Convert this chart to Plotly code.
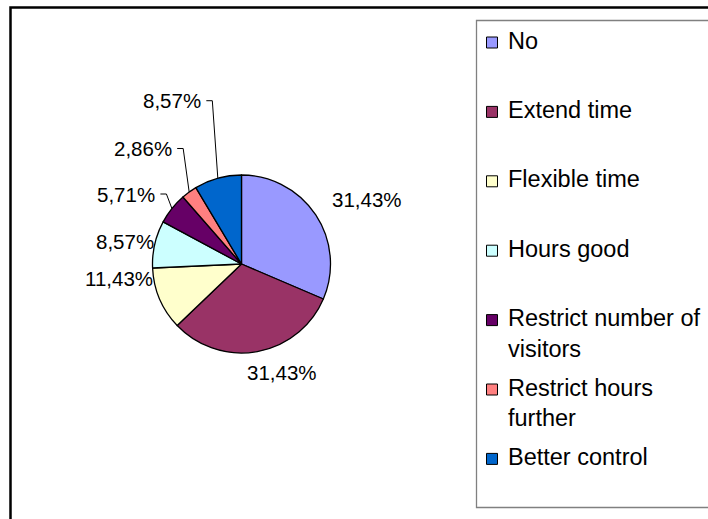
import math
import plotly.graph_objects as go

# ---- data -------------------------------------------------------------
categories = ["No", "Extend time", "Flexible time", "Hours good",
              "Restrict number of visitors", "Restrict hours further",
              "Better control"]
legend_lines = [["No"], ["Extend time"], ["Flexible time"], ["Hours good"],
                ["Restrict number of", "visitors"],
                ["Restrict hours", "further"], ["Better control"]]
counts = [11, 11, 4, 3, 2, 1, 3]
colors = ["#9999FF", "#993366", "#FFFFCC", "#CCFFFF",
          "#660066", "#FF8080", "#0066CC"]

# ---- layout constants (pixels) ----------------------------------------
W, H = 708, 519
CX, CY, R = 241.5, 264.0, 89.0
FONT = "Arial, 'Liberation Sans', sans-serif"
LABEL_SIZE = 20.5
LEGEND_SIZE = 23.5

# label placement: ("free", dx, dy) centres the text at anchor+offset,
# ("leader", dx, dy) bends a leader line at anchor+offset, text to its left
label_style = [("free", 51, -15), ("free", 25, 21), ("free", -41, -20),
               ("free", -30, -3), ("leader", -5.5, -14.5),
               ("leader", -6, -43.5), ("leader", -5.5, -77.5)]


def px(x):
    return x / W


def py(y):
    return 1 - y / H


total = sum(counts)
fig = go.Figure()
fig.add_trace(go.Pie(
    values=counts, labels=categories, sort=False,
    direction="clockwise", rotation=0,
    marker=dict(colors=colors, line=dict(color="black", width=1.3)),
    textinfo="none", hoverinfo="label+percent", showlegend=False,
    domain=dict(x=[px(CX - R), px(CX + R)], y=[py(CY + R), py(CY - R)]),
))

shapes = []
annotations = []

# percentage labels around the pie
cum = 0
for c, (kind, dx, dy) in zip(counts, label_style):
    mid = 2 * math.pi * (cum + c / 2) / total
    cum += c
    ax = CX + R * math.sin(mid)
    ay = CY - R * math.cos(mid)
    text = f"{100 * c / total:.2f}".replace(".", ",") + "%"
    if kind == "free":
        annotations.append(dict(x=px(ax + dx), y=py(ay + dy), text=text,
                                xanchor="center", yanchor="middle"))
    else:
        ex, ey = ax + dx, ay + dy
        shapes.append(dict(type="path", xref="paper", yref="paper",
                           path=f"M{px(ax)},{py(ay)} L{px(ex)},{py(ey)} "
                                f"L{px(ex - 6)},{py(ey)}",
                           line=dict(color="black", width=1)))
        annotations.append(dict(x=px(ex - 9), y=py(ey), text=text,
                                xanchor="right", yanchor="middle"))
for a in annotations:
    a.update(xref="paper", yref="paper", showarrow=False,
             font=dict(family=FONT, size=LABEL_SIZE, color="black"))

# outer chart frame (runs off the right and bottom edges)
shapes.append(dict(type="rect", xref="paper", yref="paper",
                   x0=px(10.5), y0=py(7.5), x1=px(W + 20), y1=py(H + 20),
                   line=dict(color="black", width=2.5)))
# legend box
shapes.append(dict(type="rect", xref="paper", yref="paper",
                   x0=px(476.5), y0=py(20.5), x1=px(W + 20), y1=py(507.5),
                   line=dict(color="#808080", width=1.3)))

# legend entries
for i, (lines, col) in enumerate(zip(legend_lines, colors)):
    top = 37 + 69.4 * i
    shapes.append(dict(type="rect", xref="paper", yref="paper",
                       x0=px(486.5), y0=py(top), x1=px(497.5), y1=py(top + 11),
                       fillcolor=col, line=dict(color="black", width=1)))
    for j, line in enumerate(lines):
        annotations.append(dict(
            xref="paper", yref="paper", x=px(506), y=py(top + 3.5 + 30.5 * j),
            text=line, showarrow=False, xanchor="left", yanchor="middle",
            font=dict(family=FONT, size=LEGEND_SIZE, color="black")))

fig.update_layout(
    width=W, height=H, margin=dict(l=0, r=0, t=0, b=0),
    paper_bgcolor="white", plot_bgcolor="white",
    shapes=shapes, annotations=annotations, showlegend=False,
)
fig.write_html("out.html")
